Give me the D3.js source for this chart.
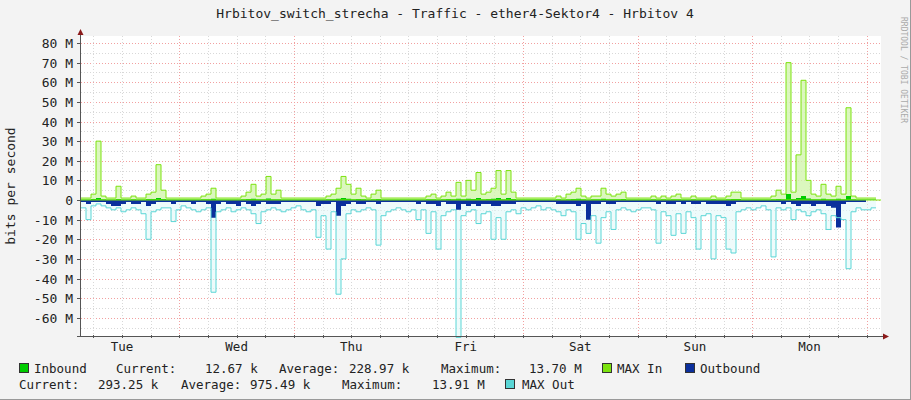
<!DOCTYPE html>
<html><head><meta charset="utf-8">
<script src="https://cdn.jsdelivr.net/npm/d3@7"></script>
<style>body{margin:0;background:#f3f3f3}svg text{font-family:"DejaVu Sans Mono",monospace;white-space:pre}</style>
</head><body><svg id="c" width="911" height="400"></svg>
<script>
const days=["Tue","Wed","Thu","Fri","Sat","Sun","Mon"];
const yTicks=[80,70,60,50,40,30,20,10,0,-10,-20,-30,-40,-50,-60];
// values in M bits/s, one sample per ~1.05 h
const maxIn=[1,1,3,30,2,1,1,7,1,1,2,1,1,3,4,18,5,1,1,1,1,1,1,1,2,3,6,1,1,1,1,1,2,4,8,2,3,12,3,5,1,1,1,1,1,1,1,1,1,2,3,6,12,8,3,6,2,1,3,5,1,1,1,1,1,1,1,1,1,2,3,1,2,4,2,9,2,10,5,14,3,4,6,15,3,15,4,1,1,1,1,1,1,1,1,2,1,3,4,6,2,1,2,2,6,3,2,3,4,1,1,1,1,1,2,1,2,1,2,3,1,1,2,1,1,1,2,1,1,2,4,4,1,1,1,1,1,1,2,5,3,70,4,23,61,10,3,2,8,3,2,7,3,47,2,1,1,1,1,1];
const maxOut=[-4,-10,-3,-2,-3,-4,-5,-4,-6,-5,-4,-5,-7,-20,-6,-5,-4,-4,-11,-5,-3,-4,-5,-6,-5,-4,-47,-6,-5,-4,-6,-5,-4,-5,-7,-12,-6,-5,-4,-5,-6,-5,-4,-3,-5,-6,-5,-19,-8,-25,-6,-48,-30,-7,-5,-6,-5,-4,-5,-23,-8,-6,-5,-4,-5,-6,-5,-10,-5,-17,-6,-25,-8,-6,-5,-70,-8,-6,-5,-12,-7,-6,-20,-9,-20,-6,-5,-7,-4,-5,-4,-3,-5,-4,-5,-6,-8,-5,-6,-20,-12,-17,-8,-22,-9,-6,-15,-5,-4,-5,-6,-5,-4,-4,-5,-22,-6,-8,-18,-7,-17,-6,-9,-25,-8,-7,-30,-8,-9,-25,-27,-6,-5,-4,-5,-4,-3,-5,-29,-4,-5,-4,-10,-5,-6,-8,-6,-5,-7,-15,-8,-9,-10,-35,-6,-4,-5,-5,-4,-4];
const outbound=[-1,-2,-1,-1,-1,-2,-3,-3,-2,-1,-2,-2,-1,-3,-2,-1,-1,-1,-2,-1,-1,-1,-2,-1,-1,-2,-9,-2,-1,-2,-2,-3,-1,-2,-3,-2,-1,-2,-2,-2,-1,-1,-1,-1,-1,-1,-1,-3,-2,-2,-1,-8,-3,-2,-1,-2,-2,-1,-1,-2,-1,-1,-1,-1,-1,-1,-1,-2,-1,-2,-2,-3,-1,-2,-2,-5,-2,-3,-2,-3,-2,-2,-3,-3,-2,-2,-2,-1,-1,-1,-1,-1,-1,-1,-1,-2,-2,-2,-2,-3,-2,-10,-2,-2,-1,-2,-2,-1,-1,-1,-1,-1,-1,-1,-1,-2,-1,-2,-2,-1,-2,-1,-2,-2,-1,-2,-2,-2,-2,-3,-2,-1,-1,-1,-1,-1,-1,-1,-1,-1,-2,-1,-2,-3,-2,-2,-3,-2,-2,-3,-4,-14,-2,-1,-1,-1,-1,-1];
const inbound=[0.3,0.3,0.5,1,0.4,0.3,0.3,0.5,0.3,0.3,0.4,0.3,0.3,0.5,0.5,1,0.5,0.3,0.3,0.3,0.3,0.3,0.3,0.3,0.4,0.4,0.6,0.3,0.3,0.3,0.3,0.3,0.4,0.5,0.6,0.4,0.4,0.8,0.4,0.4,0.3,0.3,0.3,0.3,0.3,0.3,0.3,0.3,0.3,0.4,0.4,0.6,1,0.6,0.4,0.5,0.4,0.3,0.4,0.5,0.3,0.3,0.3,0.3,0.3,0.3,0.3,0.3,0.3,0.4,0.4,0.3,0.4,0.5,0.4,0.6,0.4,0.7,0.5,1,0.4,0.5,0.6,1,0.4,1,0.5,0.3,0.3,0.3,0.3,0.3,0.3,0.3,0.3,0.4,0.3,0.4,0.5,0.6,0.4,0.3,0.4,0.4,0.6,0.4,0.4,0.4,0.5,0.3,0.3,0.3,0.3,0.3,0.4,0.3,0.4,0.3,0.4,0.4,0.3,0.3,0.4,0.3,0.3,0.3,0.4,0.3,0.3,0.4,0.5,0.5,0.3,0.3,0.3,0.3,0.3,0.3,0.4,0.5,0.4,3,0.5,1,2,0.8,0.4,0.4,0.6,0.4,0.4,0.6,0.4,2,0.4,0.3,0.3,0.3,0.3,0.3];
const legend1=[["Inbound",34],["Current:",116],["12.67 k",205],["Average:",279],["228.97 k",349],["Maximum:",441],["13.70 M",529],["MAX In",617],["Outbound",700]];
const legend2=[["Current:",19],["293.25 k",98],["Average:",181],["975.49 k",250],["Maximum:",342],["13.91 M",432],["MAX Out",522]];

const svg=d3.select("#c");
const L=81,R=881,T=36,B=336;
svg.append("rect").attr("width",911).attr("height",400).attr("fill","#f3f3f3");
svg.append("line").attr("x1",910.5).attr("x2",910.5).attr("y1",0).attr("y2",400).attr("stroke","#999");
svg.append("line").attr("x1",0).attr("x2",911).attr("y1",399.5).attr("y2",399.5).attr("stroke","#999");
svg.append("rect").attr("x",L).attr("y",T).attr("width",R-L).attr("height",B-T).attr("fill","#fff");
const y=d3.scaleLinear().domain([0,80]).range([200,43]);
const xi=d3.scaleLinear().domain([0,maxIn.length-1]).range([L,876]);
const xt=d3.scaleLinear().domain([0,168]).range([L,L+802]);
const firstMid=20.6;
const g=svg.append("g");
for(let v=-65;v<=80;v+=5){const major=v%10===0;g.append("line").attr("x1",L).attr("x2",R).attr("y1",Math.round(y(v))+.5).attr("y2",Math.round(y(v))+.5)
 .attr("stroke",major?"#f2a0a0":"#d8d8d8").attr("stroke-dasharray","1,2");}
for(let h=firstMid-18;h<168;h+=6){const x=Math.round(xt(h))+.5;if(x<=L+1||x>R)continue;const major=Math.abs(((h-firstMid)%24+24)%24)<0.01;
 g.append("line").attr("x1",x).attr("x2",x).attr("y1",T).attr("y2",B).attr("stroke",major?"#f2a0a0":"#d8d8d8").attr("stroke-dasharray","1,2");}
const area=d=>d3.area().x((v,i)=>xi(i)).y0(y(0)).y1(v=>y(v)).curve(d3.curveStepAfter)(d);
const line=d=>d3.line().x((v,i)=>xi(i)).y(v=>y(v)).curve(d3.curveStepAfter)(d);
svg.append("path").attr("d",area(maxOut)).attr("fill","#e2f8f8").attr("opacity",.6);
svg.append("path").attr("d",area(maxIn)).attr("fill","#d2f5ae").attr("opacity",.8);
svg.append("path").attr("d",area(outbound)).attr("fill","#0b2f9c");
svg.append("path").attr("d",area(inbound)).attr("fill","#00cc00");
svg.append("path").attr("d",line(maxOut)).attr("fill","none").attr("stroke","#5ad6d6").attr("stroke-width",1);
svg.append("path").attr("d",line(maxIn)).attr("fill","none").attr("stroke","#7ce30f").attr("stroke-width",1);
svg.append("line").attr("x1",L).attr("x2",R).attr("y1",y(0)).attr("y2",y(0)).attr("stroke","#7ce30f");
svg.append("line").attr("x1",L-.5).attr("x2",L-.5).attr("y1",32).attr("y2",B).attr("stroke","#555");
svg.append("line").attr("x1",L-4).attr("x2",R+3).attr("y1",B+.5).attr("y2",B+.5).attr("stroke","#555");
svg.append("path").attr("d",`M${L-3.5},35L${L+2.5},35L${L-.5},29Z`).attr("fill","#8b1a1a");
svg.append("path").attr("d",`M${R+2},${B-2.5}L${R+2},${B+3.5}L${R+8},${B+.5}Z`).attr("fill","#8b1a1a");
yTicks.forEach(v=>{const yy=Math.round(y(v))+.5;
 svg.append("line").attr("x1",L-4).attr("x2",L).attr("y1",yy).attr("y2",yy).attr("stroke","#555");
 svg.append("text").attr("x",73).attr("y",yy+4.5).attr("text-anchor","end").attr("font-size",13).attr("fill","#222").text(v===0?"0":v+" M");});
for(let h=firstMid-18;h<168;h+=6){const x=Math.round(xt(h))+.5;if(x<=L+1||x>R)continue;
 svg.append("line").attr("x1",x).attr("x2",x).attr("y1",B-1).attr("y2",B+2).attr("stroke","#555");}
days.forEach((d,k)=>svg.append("text").attr("x",xt(firstMid-12+24*k)).attr("y",351).attr("text-anchor","middle").attr("font-size",12.5).attr("fill","#222").text(d));
svg.append("text").attr("x",455).attr("y",18).attr("text-anchor","middle").attr("font-size",13).attr("fill","#222").text("Hrbitov_switch_strecha - Traffic - ether4-Sektor4 - Hrbitov 4");
svg.append("text").attr("transform","translate(15,186) rotate(-90)").attr("text-anchor","middle").attr("font-size",13).attr("fill","#222").text("bits per second");
svg.append("text").attr("transform","translate(901,70) rotate(90)").attr("text-anchor","middle").attr("font-size",8).attr("fill","#aaa").text("RRDTOOL / TOBI OETIKER");
const box=(x,yy,c)=>svg.append("rect").attr("x",x+.5).attr("y",yy+.5).attr("width",9).attr("height",9).attr("fill",c).attr("stroke","#333");
box(19,363,"#00cc00");box(602,363,"#7ce30f");box(685,363,"#0b2f9c");box(505,379,"#5ad6d6");
legend1.forEach(([t,x])=>svg.append("text").attr("x",x).attr("y",373).attr("font-size",12.5).attr("fill","#222").text(t));
legend2.forEach(([t,x])=>svg.append("text").attr("x",x).attr("y",389).attr("font-size",12.5).attr("fill","#222").text(t));
</script></body></html>
